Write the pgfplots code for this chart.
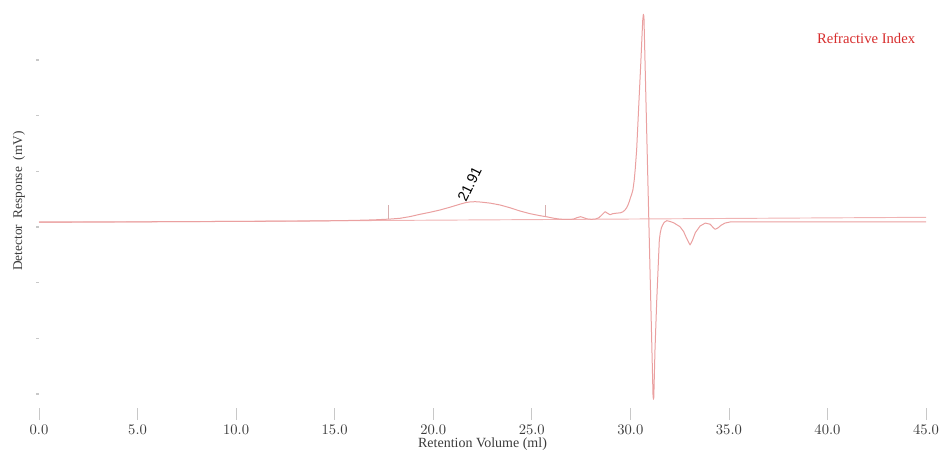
\documentclass[border=0pt]{standalone}
\usepackage{pgfplots}
\pgfplotsset{compat=1.18}
\usepackage{fontspec}
\setmainfont{Liberation Serif}
\newfontfamily\labelfont{Liberation Sans}

\definecolor{trace}{RGB}{234,160,160}
\definecolor{basecol}{RGB}{240,180,180}
\definecolor{markcol}{RGB}{215,175,175}
\definecolor{tickcol}{RGB}{200,200,200}
\definecolor{txtcol}{RGB}{60,60,60}
\definecolor{titlecol}{RGB}{215,45,45}

\begin{document}
\begin{tikzpicture}
\useasboundingbox (0,0) rectangle (708pt,339pt);
\begin{axis}[
    at={(29.25pt,33pt)}, anchor=south west,
    scale only axis,
    width=665.25pt, height=303pt,
    xmin=0, xmax=45, ymin=-0.2515, ymax=7.0056,
    axis line style={draw=none},
    xtick={0,5,...,45},
    ytick={0,1,...,6},
    yticklabels={},
    xtick pos=bottom, ytick pos=left,
    tick align=outside,
    major tick length=9pt,
    xtick style={draw=tickcol, line width=0.6pt},
    ytick style={draw=tickcol, line width=0.8pt, dash pattern=on 2pt off 7pt, dash phase=2pt},
    xticklabel={\pgfmathprintnumber[fixed,fixed zerofill,precision=1]{\tick}},
    xticklabel style={font=\fontsize{10.5}{12}\selectfont, text=txtcol},
    xlabel={Retention Volume (ml)},
    xlabel style={at={(rel axis cs:0.5,0)}, anchor=center, yshift=-27pt,
        font=\fontsize{10.5}{12}\selectfont, text=txtcol},
    ylabel={Detector\ \ Response\ \ (mV)},
    ylabel style={at={(rel axis cs:0,0.512)}, anchor=center, yshift=15pt,
        font=\fontsize{10}{12}\selectfont, text=txtcol},
    clip=false,
]
% baseline
\addplot[basecol, line width=0.7pt] coordinates {(0,3.081) (45,3.174)};
% peak limits
\addplot[markcol, line width=0.6pt] coordinates {(17.71,3.144) (17.71,3.395)};
\addplot[markcol, line width=0.6pt] coordinates {(25.67,3.180) (25.67,3.395)};
% refractive index trace
\addplot[trace, line width=0.75pt, line join=round] coordinates {
(0.00,3.090) (5.00,3.093) (10.00,3.100) (14.00,3.108) (16.00,3.118)
(17.00,3.128) (17.80,3.142) (18.31,3.156) (18.80,3.185) (19.33,3.228)
(19.85,3.265) (20.34,3.305) (20.85,3.355) (21.36,3.410) (21.65,3.438)
(21.91,3.452) (22.15,3.454) (22.40,3.448) (22.90,3.428) (23.39,3.395)
(23.90,3.345) (24.40,3.287) (24.90,3.240) (25.42,3.203) (25.80,3.180)
(26.10,3.158) (26.43,3.140) (26.80,3.135) (27.10,3.140) (27.30,3.168)
(27.48,3.185) (27.65,3.165) (27.80,3.145) (28.00,3.138) (28.20,3.140)
(28.40,3.165) (28.55,3.215) (28.72,3.275) (28.85,3.245) (28.97,3.220)
(29.10,3.238) (29.30,3.248) (29.50,3.255) (29.62,3.272) (29.73,3.305)
(29.82,3.350) (29.88,3.395) (29.95,3.460) (30.00,3.520) (30.07,3.590)
(30.13,3.665) (30.20,3.850) (30.25,4.050) (30.32,4.383) (30.38,4.830)
(30.44,5.281) (30.50,5.720) (30.55,6.100) (30.60,6.500) (30.63,6.720)
(30.66,6.820) (30.69,6.780) (31.15,-0.020) (31.17,-0.095) (31.19,-0.060)
(31.25,0.790) (31.34,1.689) (31.47,2.766) (31.52,2.900) (31.58,2.990)
(31.64,3.036) (31.72,3.085) (31.85,3.113) (32.00,3.100) (32.20,3.075)
(32.52,3.005) (32.70,2.920) (32.85,2.800) (33.03,2.677) (33.15,2.760)
(33.30,2.900) (33.54,3.018) (33.80,3.070) (34.05,3.050) (34.20,2.990)
(34.30,2.959) (34.45,2.985) (34.60,3.030) (34.80,3.070) (35.06,3.090)
(40.00,3.090) (45.00,3.090)
};
\node[rotate=64, font=\labelfont\fontsize{11}{12}\selectfont, text=black]
    at (axis cs:21.85,3.77) {21.91};
\node[font=\fontsize{11}{12}\selectfont, text=titlecol]
    at (axis cs:41.96,6.395) {Refractive Index};
\end{axis}
\end{tikzpicture}
\end{document}
